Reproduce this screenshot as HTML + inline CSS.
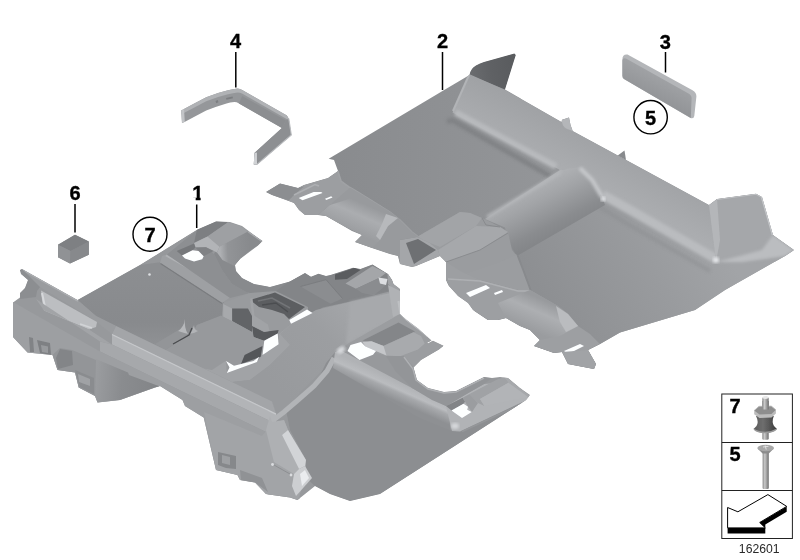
<!DOCTYPE html>
<html>
<head>
<meta charset="utf-8">
<title>162601</title>
<style>
html,body{margin:0;padding:0;background:#fff;}
body{width:800px;height:560px;overflow:hidden;position:relative;font-family:"Liberation Sans",Arial,sans-serif;}
svg{position:absolute;left:0;top:0;display:block;}
.lbl{font-family:"Liberation Sans",Arial,sans-serif;font-weight:bold;font-size:20px;fill:#000;stroke:#000;stroke-width:0.35px;text-anchor:middle;}
.num{font-family:"Liberation Sans",Arial,sans-serif;font-size:12.2px;fill:#2a2a2a;text-anchor:middle;}
.ld{stroke:#000;stroke-width:1.5;fill:none;}
.circ{stroke:#000;stroke-width:1.4;fill:#fff;}
</style>
</head>
<body>
<svg width="800" height="560" viewBox="0 0 800 560">
<defs>
<filter id="tint" x="0" y="0" width="100%" height="100%" filterUnits="userSpaceOnUse" color-interpolation-filters="sRGB"><feColorMatrix type="matrix" values="1 0 0 0 -0.008  0 1 0 0 0  0 0 1 0 0.012  0 0 0 1 0"/></filter>
<filter id="b00" x="-5%" y="-5%" width="110%" height="110%"><feGaussianBlur stdDeviation="0.3"/></filter>
<filter id="b0" x="-5%" y="-5%" width="110%" height="110%"><feGaussianBlur stdDeviation="0.35"/></filter>
<filter id="b1" x="-5%" y="-5%" width="110%" height="110%"><feGaussianBlur stdDeviation="0.6"/></filter>
<filter id="b2" x="-10%" y="-10%" width="120%" height="120%"><feGaussianBlur stdDeviation="1.5"/></filter>
<filter id="b3" x="-20%" y="-20%" width="140%" height="140%"><feGaussianBlur stdDeviation="3"/></filter>
</defs>

<g filter="url(#tint)">
<!-- ===== PART 4 strap ===== -->
<g id="p4">
<path d="M181.2,110.5 Q194,103.5 206.2,97.2 Q218,92.5 228,90.2 Q233,89 237.5,88.4 Q240,88.4 242.2,90 L286.9,115.4 L288.8,118.7 L291.3,135 L257,164.4 L253.8,164.4 L254.4,153.1 L281.9,128.1 L239,103.4 Q236.5,102 234.4,102 Q230,102.3 226.5,103.4 Q216,106.5 206.2,110.5 L184.5,122 L182,123 Z" fill="#979797"/>
<path d="M181.2,110.5 Q194,103.5 206.2,97.2 Q218,92.5 228,90.2 Q233,89 237.5,88.4 Q240,88.4 242.2,90 L286.9,115.4 L288.8,118.7 L287.5,119.5 L242,93.6 Q240,92.4 237.5,92.4 Q233,93 228,94.2 Q218,96.5 206.2,101.2 L181.5,114.2 Z" fill="#b2b2b2" filter="url(#b0)"/>
<path d="M239,103.4 L242.2,96 L286,120.5 L281.9,128.1 Z" fill="#8e8e8e"/>
<path d="M281.9,128.1 L286,120.5 L288.8,118.7 L291.3,135 L257,164.4 L253.8,164.4 L254.4,153.1 Z" fill="#8f8f8f"/>
<path d="M288.8,118.7 L291.3,135 L257,164.4" stroke="#bdbdbd" stroke-width="1.1" fill="none" filter="url(#b0)"/>
<path d="M254.4,153.1 L256.9,152.6 L257,164.4 L253.8,164.4 Z" fill="#d2d2d2"/>
<path d="M181.2,110.5 L184,109.2 L184.8,121.8 L182,123 Z" fill="#c4c4c4"/>
<path d="M215.5,101 l2.2,-0.9 l0.8,2.2 l-2.2,0.9 Z M226,98 l6.5,-1.6 l0.5,1.8 l-6.5,1.6 Z" fill="#7e7e7e"/>
</g>

<!-- ===== PART 6 cube ===== -->
<g id="p6" transform="translate(0,1.1)">
<path d="M75,233.7 L58,243.7 L58,256.2 L70,262.5 L88.8,253.7 L88.8,240.5 Z" fill="#8a8a8a"/>
<path d="M75,233.7 L58,243.7 L70.6,250 L88.8,240.5 Z" fill="#808080"/>
<path d="M58,243.7 L70.6,250 L70,262.5 L58,256.2 Z" fill="#929292"/>
<path d="M70.6,250 L88.8,240.5 L88.8,253.7 L70,262.5 Z" fill="#898989"/>
</g>

<!-- ===== PART 3 pad ===== -->
<g id="p3">
<defs><linearGradient id="g3" x1="640" y1="62" x2="628" y2="86" gradientUnits="userSpaceOnUse"><stop offset="0" stop-color="#a4a4a4"/><stop offset="1" stop-color="#949494"/></linearGradient></defs>
<path d="M622.4,59.5 Q622.4,54 627.5,54.6 L692.5,90.2 Q696.6,92.5 696.4,96.5 L694.3,116 Q693.8,119.3 690.5,118 L624.4,79.2 Q622.3,78 622.4,75.7 Z" fill="#b6b6b6"/>
<path d="M622.4,60.5 Q622.6,57.2 626,58.6 L688.5,93.5 Q691.8,95.5 691.6,98.5 L690.8,118 L624.4,79.2 Q622.3,78 622.4,75.7 Z" fill="url(#g3)"/>
</g>

<!-- ===== PART 2 ===== -->
<g id="p2">
<defs>
<clipPath id="c2"><path d="M334,160 L328.7,158.7 L442.5,91 L469.5,75 Q470.5,68.5 476,65.5 Q480,63.3 484,62 L514.4,53.5 L515.8,55 L505,89.5 L561.5,122 L562,119.8 L569,117.5 L570.5,125 L572.7,131 L617,155 L709,205 L717,199 L756,193.7 L762,197 L773,235 L794,250 L785,256 L725,290 L695,310 L620,332.5 L600,344 L588,350 L596,364 L594,369 L568,364 L562,352 L554,353 L534,346 L540,340 L530,330 L520,326 L506,318 L498,320 L488,320 L473,310 L468,303 L458,296 L449,286 L446,280 L446,262 L440,256 L416,266 L412,267 L400,264 L398,256 L390,254 L372,248 L355,242 L362,235 L352,231 L340,224 L326,216 L318,215 L305,215 L299,210 L294,203 L286,200 L272,195 L266,192 L280,183.6 L298,188 L304,185 L328,178 L338,171 Z"/></clipPath>
<linearGradient id="g2flat" x1="330" y1="160" x2="560" y2="170" gradientUnits="userSpaceOnUse"><stop offset="0" stop-color="#8b8b8b"/><stop offset="1" stop-color="#969696"/></linearGradient>
<linearGradient id="g2r" x1="560" y1="330" x2="720" y2="240" gradientUnits="userSpaceOnUse"><stop offset="0" stop-color="#8f8f8f"/><stop offset="0.6" stop-color="#9b9b9b"/><stop offset="1" stop-color="#a4a4a4"/></linearGradient>
<linearGradient id="g2tun" x1="520" y1="190" x2="545" y2="240" gradientUnits="userSpaceOnUse"><stop offset="0" stop-color="#b2b2b2"/><stop offset="0.35" stop-color="#a3a3a3"/><stop offset="0.8" stop-color="#8c8c8c"/><stop offset="1" stop-color="#868686"/></linearGradient>
<linearGradient id="gflap" x1="470" y1="72" x2="512" y2="66" gradientUnits="userSpaceOnUse"><stop offset="0" stop-color="#6c6c6c"/><stop offset="0.5" stop-color="#616161"/><stop offset="1" stop-color="#5c5c5c"/></linearGradient>
<linearGradient id="g2wall" x1="560" y1="120" x2="540" y2="160" gradientUnits="userSpaceOnUse"><stop offset="0" stop-color="#a2a2a2"/><stop offset="1" stop-color="#adadad"/></linearGradient>
<linearGradient id="gduct1" x1="350" y1="198" x2="338" y2="226" gradientUnits="userSpaceOnUse"><stop offset="0" stop-color="#9a9a9a"/><stop offset="0.4" stop-color="#adadad"/><stop offset="1" stop-color="#9c9c9c"/></linearGradient>
<linearGradient id="gduct2" x1="525" y1="292" x2="512" y2="322" gradientUnits="userSpaceOnUse"><stop offset="0" stop-color="#9a9a9a"/><stop offset="0.4" stop-color="#afafaf"/><stop offset="1" stop-color="#9c9c9c"/></linearGradient>
</defs>
<g clip-path="url(#c2)">
<rect x="260" y="40" width="540" height="340" fill="url(#g2flat)"/>
<path d="M560.0,170.0 L602.0,197.0 L716.0,262.0 L800.0,250.0 L800.0,380.0 L500.0,380.0 L470.0,300.0 L447.0,285.0 L445.0,262.0 Z" fill="url(#g2r)" />
<path d="M469.5,75 Q470.5,68.5 476,65.5 Q480,63.3 484,62 L514.4,53.5 L515.8,55 L505,89.5 Z" fill="url(#gflap)"/>
<path d="M469.0,74.0 L505.0,90.0 L561.5,122.0 L562.0,119.8 L569.0,117.5 L570.5,125.0 L572.7,131.0 L617.0,155.0 L709.0,205.0 L717.0,199.0 L756.0,193.7 L762.0,197.0 L773.0,235.0 L794.0,250.0 L785.0,256.0 L742.0,262.0 L716.0,262.0 L630.0,212.0 L602.0,197.0 L592.0,180.0 L580.0,168.0 L560.0,170.0 L452.5,112.5 Z" fill="url(#g2wall)" />
<path d="M455.5,112.5 L556.0,166.5" stroke="#bababa" stroke-width="6" fill="none" filter="url(#b2)"/>
<path d="M447.0,122.0 L452.0,120.0 L550.0,176.0" stroke="#7e7e7e" stroke-width="5" fill="none" filter="url(#b2)" opacity="0.75"/>
<path d="M469.0,75.0 L453.0,111.0" stroke="#b4b4b4" stroke-width="2" fill="none" filter="url(#b1)"/>
<path d="M603.0,195.0 L630.0,210.0 L716.0,259.0" stroke="#bcbcbc" stroke-width="9" fill="none" filter="url(#b2)"/>
<path d="M598.0,206.0 L626.0,223.0 L710.0,271.0" stroke="#8c8c8c" stroke-width="4" fill="none" filter="url(#b2)" opacity="0.45"/>
<path d="M709.0,205.0 L717.0,199.0 L756.0,193.7 L762.0,197.0 L773.0,235.0 L794.0,250.0 L785.0,256.0 L742.0,262.0 L716.0,262.0 Z" fill="#a7a7a7" />
<path d="M709.0,205.0 L717.0,199.0 L720.0,240.0 L716.0,262.0 Z" fill="#b6b6b6" filter="url(#b1)"/>
<path d="M716.0,262.0 L742.0,262.0 L785.0,256.0 L794.0,250.0 L773.0,235.0 L762.0,250.0 L740.0,256.0 Z" fill="#bdbdbd" filter="url(#b2)"/>
<path d="M762.0,197.0 L773.0,235.0" stroke="#c6c6c6" stroke-width="2.5" fill="none" filter="url(#b1)"/>
<path d="M717.0,199.5 L756.0,194.2 L762.0,197.5" stroke="#c0c0c0" stroke-width="1.2" fill="none" />
<path d="M560.0,170.0 L580.0,167.0 L592.0,180.0 L602.0,197.0 L605.0,205.0 L517.0,256.0 L510.0,245.0 L505.0,227.5 L485.0,219.0 Z" fill="url(#g2tun)" />
<path d="M561.0,172.0 L487.0,217.0" stroke="#b8b8b8" stroke-width="3" fill="none" filter="url(#b2)"/>
<path d="M580.0,168.0 L592.0,180.0 L602.0,197.0" stroke="#c8c8c8" stroke-width="4" fill="none" filter="url(#b2)"/>
<circle cx="716" cy="260" r="3" fill="#e8e8e8" filter="url(#b2)"/>
<circle cx="603" cy="199" r="2.5" fill="#e4e4e4" filter="url(#b2)"/>
<path d="M445.0,260.0 L485.0,245.0 L517.5,255.0 L524.0,272.0 L531.0,291.0 L518.0,290.0 L480.0,280.0 L446.0,280.0 Z" fill="#9d9d9d" />
<path d="M517.5,255.0 L524.0,272.0 L531.0,291.0" stroke="#8a8a8a" stroke-width="2" fill="none" filter="url(#b1)"/>
<path d="M417.0,237.0 L460.0,212.0 L470.0,213.0 L482.0,218.0 L500.0,227.0 L508.0,232.0 L512.0,250.0 L516.0,255.0 L500.0,262.0 L446.0,280.0 L446.0,262.0 L440.0,256.0 L438.0,250.0 L430.0,243.0 Z" fill="#9c9c9c" />
<path d="M417.0,237.0 L460.0,212.0 L470.0,213.0 L482.0,218.0 L476.0,226.0 L440.0,247.0 L430.0,243.0 Z" fill="#a4a4a4" />
<path d="M438.0,250.0 L476.0,226.0 L500.0,227.0 L508.0,232.0 L480.0,250.0 L446.0,262.0 L440.0,256.0 Z" fill="#a8a8a8" />
<path d="M446.0,262.0 L480.0,250.0 L508.0,233.0" stroke="#8c8c8c" stroke-width="1" fill="none" />
<path d="M482.0,218.0 L486.0,225.0 L500.0,227.0" stroke="#8a8a8a" stroke-width="1" fill="none" />
<path d="M400.0,240.0 L417.0,237.0 L430.0,243.0 L438.0,250.0 L440.0,256.0 L416.0,266.0 L412.0,267.0 L400.0,264.0 Z" fill="#a6a6a6" />
<path d="M418.0,239.0 L436.0,250.0 L414.0,264.0 L406.0,243.0 Z" fill="#707070" />
<path d="M266.0,192.0 L280.0,183.6 L298.0,188.0 L304.0,185.0 L328.0,178.0 L338.0,171.0 L341.0,181.0 L350.0,187.5 L360.0,193.5 L346.0,200.0 L330.0,205.0 L318.0,215.0 L305.0,215.0 L299.0,210.0 L294.0,203.0 L286.0,200.0 L272.0,195.0 Z" fill="#9e9e9e" />
<path d="M266.0,192.0 L280.0,183.6 L298.0,188.0 L304.0,186.5 L294.0,195.0 L288.7,200.6 L272.0,195.0 Z" fill="#8e8e8e" />
<path d="M294.0,195.0 L315.0,184.5 L319.0,186.0" stroke="#b0b0b0" stroke-width="1.4" fill="none" filter="url(#b0)"/>
<path d="M338.0,171.0 L341.0,181.0 L350.0,187.5 L360.0,193.5 L390.0,212.0 L400.0,220.0 L412.0,232.0 L420.0,238.0" stroke="#a2a2a2" stroke-width="1.5" fill="none" filter="url(#b1)"/>
<path d="M350.0,187.5 L360.0,193.5 L390.0,212.0 L398.0,218.0 L412.0,232.0 L420.0,238.0 L417.0,237.0 L400.0,240.0 L400.0,264.0 L398.0,256.0 L390.0,254.0 L372.0,248.0 L355.0,242.0 L362.0,235.0 L340.0,224.0 L326.0,216.0 L318.0,215.0 L330.0,205.0 Z" fill="#9a9a9a" />
<path d="M330.0,205.0 L346.0,200.0 L358.0,194.0 L390.0,212.0 L398.0,218.0 L388.0,226.0 L380.0,240.0 L372.0,248.0 L355.0,242.0 L362.0,235.0 L340.0,224.0 L326.0,216.0 L318.0,215.0 Z" fill="url(#gduct1)" />
<path d="M386.0,214.0 L398.0,218.0 L388.0,226.0 L380.0,240.0 L376.0,236.0 L382.0,224.0 Z" fill="#b9b9b9" filter="url(#b1)"/>
<path d="M298.7,198.1 L313.7,191.9 L321.2,191.9 L322.5,193.1 L302.5,200.2 Z" fill="#fff" />
<path d="M325.0,198.7 L331.2,196.2 L332.5,197.5 L326.2,200.0 Z" fill="#fff" />
<path d="M446.0,262.0 L446.0,280.0 L449.0,286.0 L458.0,296.0 L468.0,303.0 L473.0,310.0 L488.0,320.0 L498.0,320.0 L506.0,318.0 L520.0,326.0 L530.0,330.0 L540.0,340.0 L534.0,346.0 L554.0,353.0 L562.0,352.0 L568.0,364.0 L594.0,369.0 L596.0,364.0 L588.0,350.0 L600.0,344.0 L590.0,334.0 L578.0,326.0 L568.0,314.0 L558.0,306.0 L530.0,290.0 L518.0,290.0 L480.0,280.0 L462.0,272.0 Z" fill="#9f9f9f" />
<path d="M448.0,279.0 L480.0,281.0 L518.0,291.0 L530.0,291.0" stroke="#b0b0b0" stroke-width="1.5" fill="none" filter="url(#b1)"/>
<path d="M498.0,303.0 L520.0,294.0 L530.0,290.0 L558.0,306.0 L568.0,314.0 L578.0,326.0 L560.0,336.0 L540.0,340.0 L530.0,330.0 L506.0,318.0 Z" fill="url(#gduct2)" />
<path d="M556.0,306.0 L568.0,314.0 L578.0,326.0 L566.0,332.0 L560.0,322.0 Z" fill="#bcbcbc" filter="url(#b1)"/>
<path d="M466.0,293.0 L486.0,285.0 L490.0,288.0 L470.0,297.0 Z" fill="#fff" />
<path d="M494.0,293.0 L502.0,290.0 L503.0,292.0 L495.0,295.0 Z" fill="#fff" />
<path d="M564.0,351.0 L580.0,344.0 L584.0,346.0 L568.0,354.0 Z" fill="#fff" />
<path d="M562.0,352.0 L588.0,350.0 L596.0,364.0 L594.0,369.0 L568.0,364.0 Z" fill="#a3a3a3" />
</g>
<path d="M617.7,155.4 L624.5,150.5 L626,160 Z" fill="#8a8a8a"/>
<path d="M562,120 L569,117.5 L570.5,125 L572.7,131 L566,128.5 Q562.5,126 562,122 Z" fill="#b6b6b6" filter="url(#b0)"/>
</g>
<!-- /p2 -->

<!-- ===== PART 1 ===== -->
<g id="p1">
<defs><clipPath id="c1"><path d="M20,270 L22,269 L77.5,300 L140,265 L197.5,229.5 L216,221.6 L230,222 L242,226 L254,235 L262.5,241 L258,245.5 L240,259 L235,265 L236,271 L242,278 L254,284 L270,287 L290,281.5 L305,273 L311,276.7 L318.5,273.7 L326,276 L330.5,275 L353,267.7 L360.5,269 L372.5,264.5 L388,274 L392,280 L393.5,284 L400,289 L400,314 L406,319.5 L418,328.5 L431.5,340.5 L427,342.7 L428,343.5 L433,340.8 L443.5,345.7 L439,349.5 L421,360 L413.5,367.5 L417,380 L428,388 L444,392 L456,391 L470,384 L484,377 L492,378 L500,377 L508,378 L520,388 L530,395 L526,400 L380,494 L350,501 L330,494 L315,486 L297.5,500 L290,497.5 L266,494 L255,482.5 L240,480 L237.5,475 L216,470 L203.7,417.5 L185,406 L182.5,400 L160,386 L155,387.5 L120,400 L97.5,402.5 L95,396 L78.7,387.5 L75,372.5 L57.5,370 L52.5,355 L27.5,352.5 L13,337 L13,302.5 L20,297.5 L20,293 L25,288 L28,280 L21,274 Z"/></clipPath>
<linearGradient id="gridge" x1="392" y1="378" x2="384" y2="396" gradientUnits="userSpaceOnUse"><stop offset="0" stop-color="#b2b2b2"/><stop offset="0.4" stop-color="#bcbcbc"/><stop offset="0.55" stop-color="#a9a9a9"/><stop offset="1" stop-color="#909090"/></linearGradient>
<linearGradient id="garch" x1="96" y1="380" x2="160" y2="386" gradientUnits="userSpaceOnUse"><stop offset="0" stop-color="#9c9c9c"/><stop offset="0.4" stop-color="#8c8c8c"/><stop offset="1" stop-color="#848484"/></linearGradient>
<linearGradient id="gfloor" x1="150" y1="270" x2="150" y2="345" gradientUnits="userSpaceOnUse"><stop offset="0" stop-color="#8e8e8e"/><stop offset="0.7" stop-color="#8a8a8a"/><stop offset="1" stop-color="#919191"/></linearGradient>
<linearGradient id="gbox" x1="220" y1="248" x2="250" y2="246" gradientUnits="userSpaceOnUse"><stop offset="0" stop-color="#b0b0b0"/><stop offset="0.25" stop-color="#949494"/><stop offset="1" stop-color="#8a8a8a"/></linearGradient>
<linearGradient id="gwall" x1="390" y1="300" x2="290" y2="400" gradientUnits="userSpaceOnUse"><stop offset="0" stop-color="#acacac"/><stop offset="0.5" stop-color="#9e9e9e"/><stop offset="1" stop-color="#9a9a9a"/></linearGradient>
</defs>
<g clip-path="url(#c1)">
<rect x="0" y="210" width="540" height="300" fill="#999999"/>
<path d="M77.5,300.0 L140.0,265.0 L162.0,256.0 L224.0,302.0 L222.0,316.0 L197.0,325.0 L192.5,333.5 L165.5,350.0 L158.0,346.2 L116.0,325.9 L96.0,316.0 Z" fill="url(#gfloor)" />
<path d="M140.0,265.0 L197.5,229.5 L200.0,238.0 L167.0,258.0 L162.0,262.0 Z" fill="#989898" />
<path d="M167.0,254.4 L230.0,289.0 L232.0,296.0 L222.0,303.0 L160.0,263.0 L162.0,256.0 Z" fill="#a0a0a0" />
<path d="M166.0,255.5 L229.0,290.5" stroke="#b2b2b2" stroke-width="2" fill="none" filter="url(#b1)"/>
<path d="M160.5,263.5 L222.0,303.5" stroke="#7c7c7c" stroke-width="1.2" fill="none" filter="url(#b0)"/>
<path d="M198.0,239.0 L214.0,254.0 L222.0,270.0 L232.0,284.0 L246.0,292.0 L262.0,296.0 L280.0,293.0 L296.0,288.0 L276.0,291.0 L250.0,293.0 L230.0,298.0 L167.0,254.5 L197.5,229.5 Z" fill="#8f8f8f" />
<path d="M218.0,246.0 L214.0,254.0 L222.0,270.0 L232.0,284.0 L246.0,292.0 L262.0,296.0 L280.0,293.0 L296.0,288.0 L305.0,273.5 L290.0,281.5 L270.0,287.0 L254.0,284.0 L242.0,278.0 L236.0,271.0 L235.0,265.0 L240.0,259.0 Z" fill="#8a8a8a" />
<path d="M197.0,229.5 L216.5,221.0 L228.0,222.3 L207.5,236.5 L194.0,243.0 Z" fill="#7f7f7f" />
<path d="M207.5,236.5 L228.0,222.3 L240.5,226.0 L248.0,231.5 L219.5,246.7 Z" fill="#a0a0a0" />
<path d="M219.5,246.7 L248.0,231.5 L254.0,235.0 L262.5,241.0 L258.0,245.5 L251.0,250.0 L240.5,258.5 L234.5,266.0 L222.5,260.0 L217.0,252.5 Z" fill="url(#gbox)" />
<path d="M194.0,243.0 L207.5,236.5 L219.5,246.7 L217.0,252.5 L214.0,251.0 L206.0,247.2 L195.5,247.4 Z" fill="#b4b4b4" filter="url(#b0)"/>
<path d="M248.0,231.8 L262.0,241.5" stroke="#aaaaaa" stroke-width="1.2" fill="none" filter="url(#b0)"/>
<path d="M176.7,251.0 L194.0,243.5 L195.5,247.4 L192.5,250.3 L182.0,255.5 Z" fill="#787878" />
<path d="M195.5,247.4 L206.0,247.2 L213.5,251.0 L203.7,256.2 L198.5,251.0 Z" fill="#828282" />
<path d="M223.0,303.0 L250.0,293.0 L276.0,291.0 L308.0,307.0 L312.5,313.0 L291.0,324.0 L279.0,334.0 L279.0,344.0 L262.5,355.0 L259.0,357.0 L254.0,361.0 L234.0,366.0 L226.0,361.0 L222.0,318.0 Z" fill="#9b9b9b" />
<path d="M250.0,300.0 L275.0,292.5 L305.0,307.0 L289.0,319.0 L284.0,314.0 L272.0,310.0 L259.0,307.0 Z" fill="#5e5e5e" />
<path d="M232.0,308.6 L248.0,308.6 L252.0,316.0 L252.0,332.0 L232.0,321.0 Z" fill="#646464" />
<path d="M252.0,326.0 L264.0,332.0 L278.6,330.0 L277.7,333.6 L264.0,340.7 L253.6,337.0 Z" fill="#5a5a5a" />
<path d="M223.2,304.1 L232.1,308.6 L232.1,322.0 L223.2,317.5 Z" fill="#a9a9a9" />
<path d="M250.0,298.8 L252.5,297.9 L254.5,315.7 L267.9,324.6 L269.6,330.9 L264.3,331.8 L252.0,325.5 L252.0,315.7 Z" fill="#a3a3a3" />
<path d="M258.0,301.0 L272.0,298.0 L290.0,308.0" stroke="#747474" stroke-width="1.5" fill="none" filter="url(#b1)"/>
<path d="M262.0,305.0 L276.0,303.0 L288.0,312.0" stroke="#4e4e4e" stroke-width="1.5" fill="none" filter="url(#b1)"/>
<path d="M165.5,350.0 L179.0,341.5 L192.5,333.5 L197.0,325.0 L221.0,315.5 L232.0,321.0 L252.0,332.0 L253.6,337.0 L264.0,340.7 L262.5,355.0 L245.0,355.0 L241.0,364.0 L234.0,366.0 L226.0,361.0 L224.0,362.0 L212.0,370.0 L204.0,368.5 Z" fill="#999999" />
<path d="M204.0,368.5 L212.0,370.0 L224.0,362.0 L226.0,361.0 L226.8,372.9 L257.0,362.0 L262.5,355.0 L279.0,344.0 L279.0,334.0 L291.0,324.0 L312.5,313.0 L320.0,316.0 L300.0,330.0 L290.0,345.0 L270.0,365.0 L250.0,380.0 L232.0,382.1 Z" fill="#a3a3a3" />
<path d="M244.6,355.0 L262.5,346.0 L260.7,356.8 L241.0,364.0 Z" fill="#565656" />
<path d="M155.0,344.0 L177.5,330.5 L188.0,334.0 L165.5,350.0 Z" fill="#959595" />
<path d="M185,319 Q184,327 178,331 Q184,333 188,334 Q184,328 185,319 Z" fill="#b8b8b8" filter="url(#b0)"/>
<path d="M194,325 Q193,330 190,334 Q195,333 198,331 Q194,330 194,325 Z" fill="#b4b4b4" filter="url(#b0)"/>
<path d="M173.0,344.0 L182.0,339.0 L189.0,335.0 L192.0,328.0" stroke="#4c4c4c" stroke-width="1.3" fill="none" filter="url(#b0)"/>
<path d="M276.0,291.0 L290.0,281.0 L305.0,273.0 L311.0,276.7 L318.5,273.7 L326.0,276.0 L330.5,275.0 L353.0,267.7 L360.5,269.0 L372.5,264.5 L388.0,274.0 L392.0,280.0 L393.5,284.0 L400.0,291.0 L395.0,290.0 L374.0,295.5 L350.0,301.5 L323.0,307.5 L308.0,315.0 L308.0,307.0 Z" fill="#858585" />
<path d="M300.5,286.5 L326.0,279.7 L342.5,298.5 L330.5,303.7 Z" fill="#8d8d8d" />
<path d="M300.5,286.5 L326.0,279.7 L342.5,298.5" stroke="#7a7a7a" stroke-width="0.8" fill="none" />
<path d="M335.0,274.5 L354.5,267.7 L360.5,270.0 L347.0,279.0 L335.0,279.7 Z" fill="#5c5c5c" />
<path d="M345.5,283.5 L372.5,266.0 L386.0,273.0 L380.0,277.5 L356.0,288.7 Z" fill="#a6a6a6" />
<path d="M356.0,288.7 L380.0,277.5 L386.0,285.0 L374.0,295.5 L362.0,293.0 Z" fill="#8c8c8c" />
<path d="M378.5,277.5 L387.5,279.0 L386.0,285.0 L380.0,283.5 Z" fill="#dedede" filter="url(#b1)"/>
<path d="M387.5,273.0 L392.0,279.0 L393.5,284.0 L399.5,288.0 L400.0,312.0 L395.0,291.0 L388.0,284.0 Z" fill="#a2a2a2" />
<path d="M280.0,334.0 L291.0,324.0 L316.0,310.0 L350.0,302.0 L398.0,291.5 L400.0,291.0 L400.0,314.0 L346.0,345.0 L333.0,360.0 L300.0,392.0 L276.0,422.0 L272.0,422.0 L232.0,382.1 L250.0,380.0 L270.0,365.0 L290.0,345.0 Z" fill="url(#gwall)" />
<path d="M350.0,302.0 L398.0,291.5 L400.0,314.0 L346.0,345.0 Z" fill="#a9a9a9" filter="url(#b2)"/>
<path d="M388.0,285.0 L400.0,291.0 L400.0,314.0 L393.0,317.0 Z" fill="#b2b2b2" filter="url(#b0)"/>
<path d="M326.0,363.0 L336.0,351.0 L452.0,431.0 L460.0,430.0 L531.7,397.7 L526.0,402.0 L380.0,494.0 L350.0,501.0 L330.0,494.0 L315.0,486.0 L306.0,478.0 L306.0,460.0 L290.0,430.0 L286.0,410.0 L300.0,396.0 L318.0,380.0 Z" fill="#8e8e8e" />
<path d="M268.0,424.0 L284.0,412.0 L298.0,400.0 L314.0,386.0 L327.0,371.0 L334.0,358.0" stroke="#b4b4b4" stroke-width="5" fill="none" filter="url(#b1)"/>
<path d="M333.0,368.0 L335.0,352.0 L340.0,350.0 L446.0,406.0 L458.0,420.0 L452.0,431.0 L420.0,418.0 Z" fill="url(#gridge)" />
<ellipse cx="341" cy="350" rx="4.5" ry="3" fill="#dadada" filter="url(#b2)" transform="rotate(-35 341 350)"/>
<path d="M446.0,406.0 L470.0,392.0 L484.0,384.0 L508.0,382.0 L531.7,397.7 L460.0,431.5 L452.0,431.0 Z" fill="#b3b3b3" />
<path d="M462.0,431.5 L532.5,399.0" stroke="#969696" stroke-width="1.6" fill="none" />
<ellipse cx="455" cy="426" rx="4" ry="3" fill="#d8d8d8" filter="url(#b2)"/>
<path d="M400.0,314.0 L406.0,319.5 L418.0,328.5 L431.5,340.5 L444.0,346.0 L439.0,349.5 L421.0,360.0 L413.5,367.5 L404.0,356.0 L386.0,356.0 L376.0,353.0 L362.0,343.0 L346.0,345.0 Z" fill="#9d9d9d" />
<path d="M362.5,340.5 L398.5,322.5 L415.0,331.5 L383.5,345.7 Z" fill="#868686" />
<path d="M383.5,346.0 L413.5,332.2 L421.0,336.0 L424.7,343.5 L418.0,349.5 L400.0,356.2 L386.5,355.5 L376.0,351.0 L365.5,346.5 L362.5,342.0 L371.5,341.2 Z" fill="#aaaaaa" />
<path d="M362.5,342.0 L371.5,341.2 L383.5,346.0 L386.5,355.5 L376.0,351.0 L365.5,346.5 Z" fill="#c6c6c6" filter="url(#b1)"/>
<path d="M398.5,301.0 L400.5,313.5 L406.5,319.5 L418.5,328.5 L428.0,336.5" stroke="#c0c0c0" stroke-width="2.2" fill="none" filter="url(#b1)"/>
<path d="M386.0,356.0 L404.0,356.0 L414.0,368.0 L417.0,380.0 L428.0,388.0 L444.0,392.0 L456.0,391.0 L470.0,384.0 L484.0,377.0 L492.0,378.0 L484.0,384.0 L470.0,392.0 L446.0,406.0 L432.0,400.0 L412.0,388.0 L396.0,372.0 Z" fill="#959595" />
<path d="M404.0,357.0 L413.0,369.0 L416.0,380.0 L428.0,389.0 L444.0,393.0 L456.0,392.0 L484.0,378.0" stroke="#b0b0b0" stroke-width="1.4" fill="none" filter="url(#b0)"/>
<path d="M469.5,394.0 L498.0,379.0 L504.0,377.5 L508.5,382.7 L480.0,399.0 L484.5,406.0 L478.0,403.0 Z" fill="#a2a2a2" />
<path d="M480.0,399.0 L508.5,382.7 L528.0,397.0 L484.5,406.0 Z" fill="#b4b4b4" />
<path d="M504.0,377.5 L508.0,378.0 L520.0,388.0 L531.7,397.7 L528.0,397.0 L508.5,382.7 Z" fill="#a9a9a9" />
<path d="M446.0,406.0 L462.7,397.7 L465.0,401.5 L463.5,403.7 L451.5,410.5 Z" fill="#848484" />
<path d="M462.7,397.7 L469.5,394.0 L478.0,403.0 L472.0,412.0 L468.0,406.7 L465.0,401.5 Z" fill="#9d9d9d" />
<path d="M116.0,325.9 L272.0,401.5 L276.0,413.5 L112.0,333.9 Z" fill="#a5a5a5" />
<path d="M112.0,333.9 L276.0,413.5 L276.0,424.0 L112.0,344.4 Z" fill="#b4b4b4" />
<path d="M112.0,334.5 L276.0,414.1" stroke="#c8c8c8" stroke-width="1.2" fill="none" filter="url(#b0)"/>
<path d="M100.0,341.4 L112.0,344.4 L276.0,424.0 L276.0,437.0 L100.0,351.6 Z" fill="#a8a8a8" />
<path d="M13.0,302.0 L100.0,351.6 L276.0,437.0 L300.0,470.0 L300.0,500.0 L200.0,500.0 L13.0,400.0 Z" fill="#9f9f9f" />
<path d="M22.0,269.0 L77.5,300.0 L96.0,316.0 L116.0,325.9 L112.0,333.9 L94.0,320.0 L40.0,287.0 Z" fill="#9c9c9c" />
<path d="M23.0,270.0 L78.0,301.0" stroke="#adadad" stroke-width="1.6" fill="none" />
<path d="M41.0,290.5 L97.0,322.0 L96.0,327.0 L89.0,329.5 L44.0,310.5 L42.0,300.0 Z" fill="#bebebe" filter="url(#b1)"/>
<path d="M42.0,293.0 L45.0,307.0" stroke="#d8d8d8" stroke-width="2" fill="none" filter="url(#b1)"/>
<path d="M80.0,324.0 L92.0,328.0" stroke="#d4d4d4" stroke-width="1.6" fill="none" filter="url(#b1)"/>
<path d="M44.0,310.5 L89.0,329.5 L112.0,344.4 L100.0,341.4 L36.0,299.0 Z" fill="#a4a4a4" />
<path d="M20.0,270.0 L22.0,269.0 L40.0,287.0 L37.0,291.0 L36.0,297.0 L20.0,299.0 L20.0,293.0 L25.0,288.0 L28.0,280.0 L21.0,274.0 Z" fill="#8e8e8e" />
<path d="M96.0,359.0 L128.0,372.5 L129.0,375.0 L160.0,386.5 L155.0,387.5 L120.0,400.0 L97.5,402.5 L95.0,396.0 L94.0,380.0 Z" fill="url(#garch)" />
<path d="M29.0,337.0 L33.0,338.0 L34.0,352.0 L30.0,352.0 Z" fill="#838383" />
<path d="M37.0,340.0 L50.0,343.0 L51.0,355.0 L40.0,353.0 Z" fill="#808080" />
<path d="M41.0,345.0 L48.0,346.5 L48.0,353.0 L42.0,352.0 Z" fill="#9a9a9a" />
<path d="M52.5,355.0 L57.5,370.0 L75.0,372.5 L78.7,387.5 L95.0,396.0 L96.0,360.0 L72.0,350.0 L60.0,348.0 Z" fill="#959595" />
<path d="M60.0,349.0 L72.0,351.0 L73.0,365.0 L58.0,369.0 L56.0,358.0 Z" fill="#858585" />
<path d="M75.0,370.0 L94.0,378.0 L94.0,394.0 L80.0,387.0 Z" fill="#8c8c8c" />
<path d="M78.0,374.0 L90.0,379.0 L90.0,386.0 L79.0,382.0 Z" fill="#a2a2a2" />
<path d="M204.0,412.0 L262.0,436.0 L272.0,424.0 L284.0,420.0 L288.0,430.0 L306.0,460.0 L306.0,478.0 L297.5,500.0 L290.0,497.0 L266.0,494.0 L255.0,482.0 L240.0,480.0 L237.0,475.0 L216.0,470.0 Z" fill="#a4a4a4" />
<path d="M218.0,452.0 L236.0,456.0 L236.0,469.0 L226.0,468.0 L218.0,465.0 Z" fill="#888888" />
<path d="M222.0,455.0 L230.0,457.0 L230.0,465.0 L222.0,463.0 Z" fill="#a0a0a0" />
<path d="M240.0,470.0 L262.0,478.0 L268.0,492.0 L256.0,483.0 L241.0,480.0 Z" fill="#929292" />
<path d="M270.0,416.0 L272.0,422.0 L284.0,420.0 L288.0,430.0 L282.0,435.0 L299.0,469.0 L294.0,474.0 L274.0,462.0 L266.0,430.0 Z" fill="#b0b0b0" />
<path d="M282.0,435.0 L288.0,430.0 L306.0,460.0 L305.0,466.0 L299.0,469.0 Z" fill="#d4d4d4" />
<path d="M294.0,474.0 L299.0,469.0 L305.0,466.0 L312.0,478.0 L296.0,496.0 L292.0,486.0 Z" fill="#cecece" />
<path d="M300.0,474.0 L305.0,470.0 L309.0,478.0 L302.0,486.0 Z" fill="#ececec" filter="url(#b1)"/>
<circle cx="272.5" cy="464.5" r="1.4" fill="#dcdcdc"/><circle cx="291" cy="475" r="1.4" fill="#dcdcdc"/>
<path d="M274.0,465.0 L290.0,474.0" stroke="#8a8a8a" stroke-width="0.8" fill="none" />
</g>
<circle cx="149.5" cy="274.5" r="1.3" fill="#e0e0e0"/>
<path d="M182,255.5 L192.5,250.3 L198.5,251 L203.7,256.2 L202.2,259.2 L194,261.5 L185,258.5 Z" fill="#fff"/>
<path d="M289.3,320 L307,309.5 L312.5,313 L291,323.7 Z" fill="#fff"/>
<path d="M264.3,340.7 L277.7,333.6 L278.6,344.3 L262.5,355 Z" fill="#fff"/>
<path d="M226,361 L234,365.7 L253.6,361 L259,356.8 L257,362 L226.8,372.9 L229.5,367.5 Z" fill="#fff"/>
<path d="M347.5,351 L350.5,345 L361,342 L365.5,346.5 L376,351 L373,354.7 L359.5,360 Z" fill="#fff"/>
<path d="M451.5,410.5 L463.5,403.7 L468,406.7 L467.2,409.7 L471.7,412 L462,418 Z" fill="#fff"/>
</g>
<!-- /p1 -->
</g>
<!-- ===== labels ===== -->
<g id="labels" filter="url(#b00)">
<text class="lbl" x="235.6" y="48.4">4</text>
<path class="ld" d="M235.8,52 V87.5"/>
<text class="lbl" x="442.5" y="48.4">2</text>
<path class="ld" d="M442.5,52 V90"/>
<text class="lbl" x="665.4" y="48.5">3</text>
<path class="ld" d="M665.5,52 V72.5"/>
<text class="lbl" x="75" y="200.4">6</text>
<path class="ld" d="M75,204 V232.5"/>
<clipPath id="c1d"><path d="M186,180 H200.6 V203 H195.7 V197.6 H186 Z"/></clipPath>
<g clip-path="url(#c1d)"><text class="lbl" x="197.9" y="200.4">1</text></g>
<path class="ld" d="M196.7,204.5 V228"/>
<circle class="circ" cx="150" cy="234.2" r="17"/>
<text class="lbl" x="150" y="241.5">7</text>
<circle class="circ" cx="650.6" cy="117.2" r="16.7"/>
<text class="lbl" x="650.6" y="124.6">5</text>
</g>

<!-- ===== legend ===== -->
<g id="legend">
<defs>
<linearGradient id="gm" x1="0" y1="0" x2="1" y2="0"><stop offset="0" stop-color="#8a8a8a"/><stop offset="0.35" stop-color="#c9c9c9"/><stop offset="1" stop-color="#6f6f6f"/></linearGradient>
<linearGradient id="gr" x1="0" y1="0" x2="1" y2="0"><stop offset="0" stop-color="#5a5a5a"/><stop offset="0.4" stop-color="#6e6e6e"/><stop offset="1" stop-color="#3c3c3c"/></linearGradient>
<linearGradient id="gn" x1="0" y1="0" x2="1" y2="0"><stop offset="0" stop-color="#9a9a9a"/><stop offset="0.4" stop-color="#bdbdbd"/><stop offset="1" stop-color="#7a7a7a"/></linearGradient>
</defs>
<rect x="721.8" y="394" width="70.6" height="144.5" fill="#fff" stroke="#222" stroke-width="1"/>
<path d="M721.8,442.5 H792.4 M721.8,490.5 H792.4" stroke="#222" stroke-width="1" fill="none"/>
<text class="lbl" x="735.1" y="412.9" filter="url(#b00)">7</text>
<text class="lbl" x="735.1" y="461" filter="url(#b00)">5</text>
<text class="num" x="759.2" y="552.6" filter="url(#b00)">162601</text>
<!-- rubber mount (7) -->
<g filter="url(#b0)">
<rect x="762.3" y="396.8" width="6.4" height="12" rx="2" fill="url(#gm)"/>
<rect x="762.3" y="429" width="6.4" height="10.8" rx="1.5" fill="url(#gm)"/>
<path d="M756,416 L773.8,416 Q771.5,422 774,426 L777,429 Q772,433 765.3,433 Q758,433 753.6,429 L756.5,426 Q759,422 756,416 Z" fill="url(#gr)"/>
<path d="M753.6,428.5 Q753.4,431 759,432.6 Q765.3,433.8 771,432.6 Q777,431 776.8,428.5 Q771,431.8 765.3,431.8 Q759,431.8 753.6,428.5 Z" fill="#9a9a9a"/>
<path d="M754.2,410.5 L759,406.3 L771.2,406 L775.9,409.8 L775.9,413.5 L771.5,417.6 L759.5,418 L754.2,414.2 Z" fill="#bcbcbc"/>
<path d="M754.2,410.5 L759,406.3 L771.2,406 L775.9,409.8 L771.5,414 L759.5,414.4 Z" fill="#8e8e8e"/>
<path d="M754.2,410.5 L759,406.3 L771.2,406 L775.9,409.8" stroke="#c4c4c4" stroke-width="0.8" fill="none"/>
<rect x="762.3" y="401" width="6.4" height="8.5" fill="url(#gm)"/>
<ellipse cx="765.5" cy="397.6" rx="3.1" ry="1.3" fill="#e8e8e8"/>
</g>
<!-- screw (5) -->
<g filter="url(#b0)">
<rect x="762.6" y="450" width="6.2" height="39" rx="1.2" fill="url(#gm)"/>
<path d="M757.5,448.5 L762.6,453.5 L768.8,453.5 L773.8,448.5 Z" fill="#8c8c8c"/>
<ellipse cx="765.7" cy="448" rx="8.3" ry="3.2" fill="#a8a8a8"/>
<path d="M763,447 L768.5,446.3 M765.2,445.5 L766.2,449.5" stroke="#e6e6e6" stroke-width="0.9"/>
</g>
<!-- arrow -->
<path d="M727.6,527.9 L765.3,527.9 L759.7,522.5 L786.7,506.4 L786.7,511.8 L765.3,524.6 L765.3,533.6 L727.6,533.6 Z" fill="#000"/>
<path d="M727.6,507.5 L737.9,511.8 L767.9,494.6 L786.7,506.4 L759.7,522.5 L765.3,527.9 L727.6,527.9 Z" fill="#fff" stroke="#000" stroke-width="1" stroke-linejoin="miter"/>
</g>
</svg>
</body>
</html>
